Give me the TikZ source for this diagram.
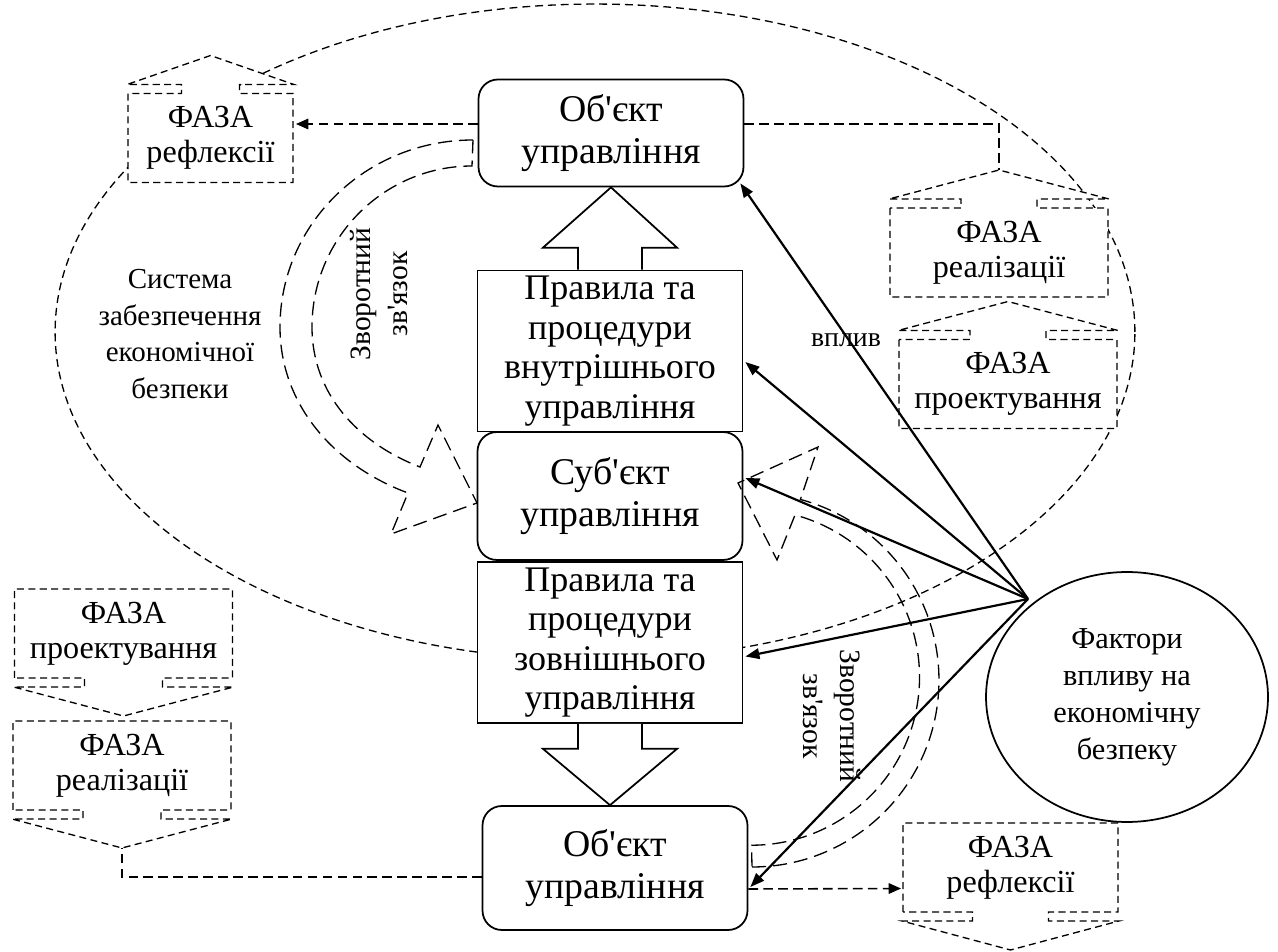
\documentclass[tikz,border=0pt]{standalone}
\usepackage{fontspec}
\setmainfont{Liberation Serif}
\usetikzlibrary{arrows.meta,positioning,calc,shapes.geometric}

% dashed phase outline with a short arrow on top / below
\newcommand{\phaseup}[2]{%
  \fill[white] ($(#1.north)+(#2,1)$) -- ++(0,-10) -- ($(#1.north east)+(1,-9)$) -- ($(#1.north)+(0,-38)$)
    -- ($(#1.north west)+(-1,-9)$) -- ($(#1.north)+(-#2,-9)$) -- ++(0,10) -- cycle;
  \draw[phaseline] (#1.north west) -- (#1.south west) -- (#1.south east) -- (#1.north east)
    -- ($(#1.north)+(#2,0)$) -- ++(0,-9) -- ($(#1.north east)+(1,-9)$) -- ($(#1.north)+(0,-38)$)
    -- ($(#1.north west)+(-1,-9)$) -- ($(#1.north)+(-#2,-9)$) -- ++(0,9) -- cycle;}
\newcommand{\phasedown}[2]{%
  \fill[white] ($(#1.south)+(#2,-1)$) -- ++(0,10) -- ($(#1.south east)+(1,9)$) -- ($(#1.south)+(0,38)$)
    -- ($(#1.south west)+(-1,9)$) -- ($(#1.south)+(-#2,9)$) -- ++(0,-10) -- cycle;
  \draw[phaseline] (#1.south west) -- (#1.north west) -- (#1.north east) -- (#1.south east)
    -- ($(#1.south)+(#2,0)$) -- ++(0,9) -- ($(#1.south east)+(1,9)$) -- ($(#1.south)+(0,38)$)
    -- ($(#1.south west)+(-1,9)$) -- ($(#1.south)+(-#2,9)$) -- ++(0,-9) -- cycle;}

\begin{document}
\begin{tikzpicture}[x=0.02cm,y=-0.02cm,
    obj/.style={draw,line width=1pt,rounded corners=11pt,fill=white,align=center,minimum width=5.3cm,font=\fontsize{21.5}{24}\selectfont},
    rule/.style={draw,line width=1pt,fill=white,align=center,inner sep=2pt,minimum width=5.3cm,minimum height=3.22cm,font=\fontsize{20.5}{22.5}\selectfont},
    phasebox/.style={fill=white,inner sep=0pt,outer sep=0pt,minimum width=4.36cm,minimum height=1.78cm,align=center,font=\fontsize{18.3}{20}\selectfont},
    phaseline/.style={line width=0.75pt,dash pattern=on 4pt off 2.5pt},
    dline/.style={line width=0.9pt,dash pattern=on 5.5pt off 3pt},
    sysline/.style={line width=0.75pt,dash pattern=on 4.5pt off 2.8pt},
    fbline/.style={line width=0.75pt,dash pattern=on 8pt off 4pt},
    infl/.style={line width=1.25pt,-{Triangle[length=8pt,width=6pt]}},
    txt/.style={align=center,font=\fontsize{16.8}{21.5}\selectfont}
  ]
    \useasboundingbox (0,0) rectangle (1278,952);

    % system boundary
    \draw[sysline] (595,332) ellipse [x radius=10.8cm, y radius=6.56cm];

    % central column
    \node[obj,minimum height=2.14cm] (obj1) at (611,133) {Об\textquotesingle єкт\\управління};
    \node[obj,minimum height=2.56cm] (subj) at (610,496) {Суб\textquotesingle єкт\\управління};
    \node[rule] (int) at (610,351) {Правила та\\процедури\\внутрішнього\\управління};
    \node[rule] (ext) at (610,642.5) {Правила та\\процедури\\зовнішнього\\управління};
    \node[obj,minimum height=2.48cm] (obj2) at (615,868) {Об\textquotesingle єкт\\управління};

    \draw[line width=1pt,fill=white] ($(int.north)+(-32,0)$) -- ++(0,-22) -- ++(-35,0) -- (obj1.south)
      -- ($(int.north)+(67,-22)$) -- ++(-35,0) -- ($(int.north)+(32,0)$);
    \draw[line width=1pt,fill=white] ($(ext.south)+(-32,0)$) -- ++(0,25) -- ++(-35,0) -- (ext.south |- obj2.north)
      -- ($(ext.south)+(67,25)$) -- ++(-35,0) -- ($(ext.south)+(32,0)$);

    % phases
    \node[phasebox,minimum width=3.3cm] (refl1) at (210.5,138) {ФАЗА\\рефлексії};
    \node[phasebox] (real1) at (999,252.5) {ФАЗА\\реалізації};
    \node[phasebox] (proj1) at (1008,384) {ФАЗА\\проектування};
    \node[phasebox] (proj2) at (123.5,633.5) {ФАЗА\\проектування};
    \node[phasebox] (real2) at (122,765.5) {ФАЗА\\реалізації};
    \node[phasebox,minimum width=4.3cm] (refl2) at (1010.5,867.5) {ФАЗА\\рефлексії};
    \phaseup{refl1}{29}
    \phaseup{real1}{38}
    \phaseup{proj1}{38}
    \phasedown{proj2}{39}
    \phasedown{real2}{39}
    \phasedown{refl2}{38}

    % factors
    \node[draw,ellipse,line width=1pt,fill=white,minimum width=5.64cm,minimum height=5cm,align=center,
      font=\fontsize{17.3}{21}\selectfont] (fact) at (1127,697) {Фактори\\впливу на\\економічну\\безпеку};
    \coordinate (src) at (1028,599);

    \draw[infl] (src) -- ($(obj1.south east)+(-4,-4)$);
    \draw[infl] (src) -- ($(int.east)+(2,11)$);
    \draw[infl] (src) -- ($(subj.east)+(2,-18)$);
    \draw[infl] (src) -- ($(ext.east)+(2,14)$);
    \draw[infl] (src) -- ($(obj2.east)+(2,19)$);
    \node[font=\fontsize{15.8}{19}\selectfont] (vpl) at (846,340) {вплив};

    % phase links
    \draw[dline,-{Triangle[length=7pt,width=6pt]}] ($(obj1.west)+(0,-9)$) -- ($(refl1.east)+(3,-14)$);
    \draw[dline] ($(obj1.east)+(0,-9)$) -| ($(real1.north)+(0,-38)$);
    \draw[dline] ($(obj2.west)+(0,9)$) -| ($(real2.south)+(0,38)$);
    \draw[dline,-{Triangle[length=7pt,width=6pt]}] ($(obj2.east)+(0,21)$) -- ($(refl2.west)+(-2,21)$);

    % feedback
    \draw[fbline] (473,140) .. controls (366,140) and (280,224) .. (280,327)
      .. controls (280,404) and (333,465) .. (408,493) -- (391,534) -- (477,503) -- (438,425) -- (420,467)
      .. controls (358,443) and (312,394) .. (312,327) .. controls (312,238) and (384,166) .. (472,166) -- cycle;
    \node[txt,rotate=90] (fb1) at (379,294) {Зворотний\\зв\textquotesingle язок};
    \draw[fbline] (752,867) arc[start angle=-90,end angle=75,radius=3.74cm] -- (818,447) -- (738,483)
      -- (777,560) -- (795,515) arc[start angle=75,end angle=-90,radius=3.36cm] -- cycle;
    \node[txt,rotate=-90] (fb2) at (832,716) {Зворотний\\зв\textquotesingle язок};

    \node[txt,font=\fontsize{16.5}{21}\selectfont] (sys) at (180,334) {Система\\забезпечення\\економічної\\безпеки};
\end{tikzpicture}
\end{document}
